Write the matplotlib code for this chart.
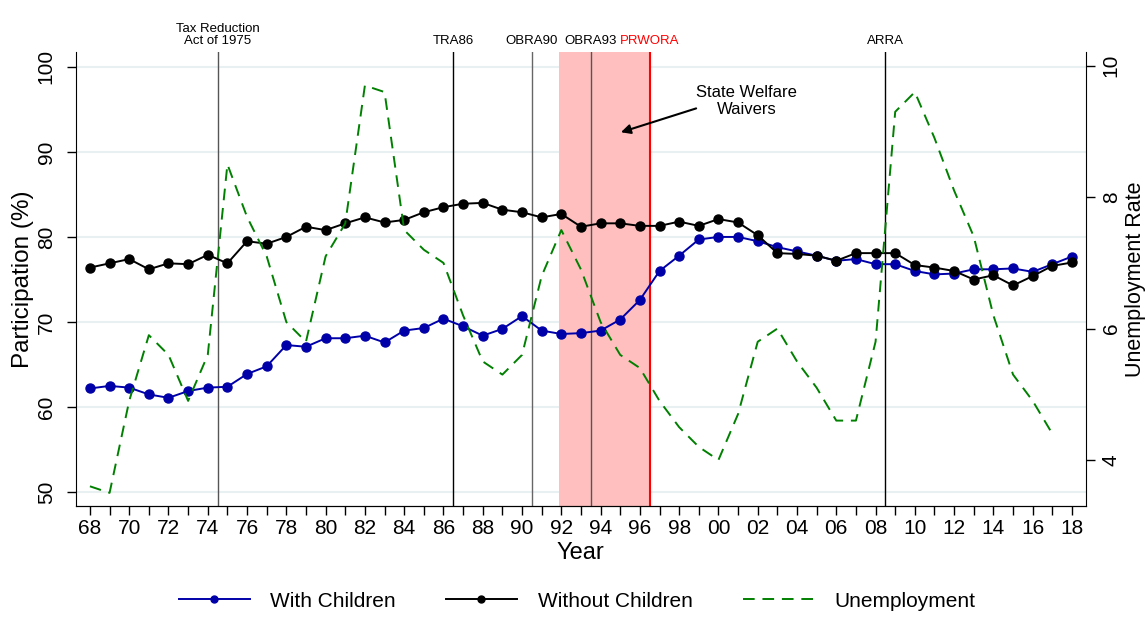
import matplotlib
matplotlib.use('Agg')
import matplotlib.pyplot as plt
from matplotlib.lines import Line2D
import matplotlib.transforms as mtransforms
import numpy as np

plt.rcParams['font.family'] = ['Liberation Sans', 'DejaVu Sans']

# ── data ───────────────────────────────────────────────────────────────
years = list(range(1968, 2019))

with_children = [62.2, 62.5, 62.3, 61.5, 61.1, 61.9, 62.3, 62.4, 63.9, 64.8,
                 67.3, 67.1, 68.1, 68.1, 68.4, 67.6, 69.0, 69.3, 70.4, 69.5,
                 68.4, 69.2, 70.7, 69.0, 68.6, 68.7, 69.0, 70.3, 72.6, 76.0,
                 77.8, 79.7, 80.0, 80.0, 79.5, 78.8, 78.3, 77.8, 77.2, 77.4,
                 76.8, 76.8, 76.0, 75.6, 75.7, 76.2, 76.2, 76.3, 75.9, 76.8,
                 77.7]

without_children = [76.4, 76.9, 77.4, 76.2, 76.9, 76.8, 77.9, 76.9, 79.5, 79.2,
                    80.0, 81.2, 80.8, 81.6, 82.3, 81.7, 82.0, 82.9, 83.5, 83.9,
                    84.0, 83.2, 82.9, 82.3, 82.7, 81.2, 81.6, 81.6, 81.3, 81.3,
                    81.8, 81.3, 82.1, 81.7, 80.2, 78.1, 78.0, 77.8, 77.2, 78.1,
                    78.1, 78.1, 76.7, 76.4, 76.0, 75.0, 75.5, 74.3, 75.4, 76.6,
                    77.0]

unemp_years = list(range(1968, 2018))
unemployment = [3.6, 3.5, 4.9, 5.9, 5.6, 4.9, 5.6, 8.5, 7.7, 7.1,
                6.1, 5.8, 7.1, 7.6, 9.7, 9.6, 7.5, 7.2, 7.0, 6.2,
                5.5, 5.3, 5.6, 6.8, 7.5, 6.9, 6.1, 5.6, 5.4, 4.9,
                4.5, 4.2, 4.0, 4.7, 5.8, 6.0, 5.5, 5.1, 4.6, 4.6,
                5.8, 9.3, 9.6, 8.9, 8.1, 7.4, 6.2, 5.3, 4.9, 4.4]

event_years = [1974.5, 1986.5, 1990.5, 1993.5, 2008.5]
event_labels = ['Tax Reduction\nAct of 1975', 'TRA86', 'OBRA90', 'OBRA93', 'ARRA']
event_colors = ['#555555', 'black', '#666666', '#555555', 'black']
prwora_year = 1996.5
waiver_start = 1991.9

BLUE = '#0000A8'
GREEN = '#008000'

fig = plt.figure(figsize=(11.46, 6.18), dpi=100)
ax = fig.add_axes([0.0663, 0.1812, 0.8811, 0.7347])
ax2 = ax.twinx()

# ── background: grid, shaded waiver period, event lines ────────────────
for v in range(50, 101, 10):
    ax.axhline(v, color='#E8F0F2', lw=1.5, zorder=0)
ax.axvspan(waiver_start, prwora_year, color='#FFBFBF', lw=0, zorder=1)
for x, c in zip(event_years, event_colors):
    ax.axvline(x, color=c, lw=1.0, zorder=2)
ax.axvline(prwora_year, color='red', lw=1.5, zorder=2)

# ── participation series ──────────────────────────────────────────────
ax.plot(years, with_children, '-o', color=BLUE, lw=1.4, ms=6.5, zorder=4)
ax.plot(years, without_children, '-o', color='black', lw=1.4, ms=6.5, zorder=4)

# ── unemployment on right axis ────────────────────────────────────────
ax2.plot(unemp_years, unemployment, '--', color=GREEN, lw=1.4,
         dashes=(6, 4))

ax.set_xlim(1967.29, 2018.7)
ax.set_ylim(48.39, 101.73)
ax2.set_ylim(3.30, 10.21)

ax.set_xticks(years)
ax.set_xticklabels([f'{y % 100:02d}' if y % 2 == 0 else '' for y in years])
ax.set_yticks(range(50, 101, 10))
ax2.set_yticks([4, 6, 8, 10])

for a in (ax, ax2):
    a.spines['top'].set_visible(False)
    a.tick_params(length=6.5, width=1.0, labelsize=15, direction='out')
ax.spines['right'].set_visible(False)
ax2.spines['left'].set_visible(False)
ax.tick_params(axis='x', pad=3)
ax.tick_params(axis='y', labelrotation=90, pad=8)
ax2.tick_params(axis='y', labelrotation=90, pad=5)
for lab in ax.get_yticklabels() + ax2.get_yticklabels():
    lab.set_va('center')

ax.set_xlabel('Year', fontsize=17, labelpad=3)
ax.set_ylabel('Participation (%)', fontsize=17.5, labelpad=2)
ax2.set_ylabel('Unemployment Rate', fontsize=15.5, labelpad=3)

# ── event labels above the plot ───────────────────────────────────────
trans = mtransforms.blended_transform_factory(ax.transData, ax.transAxes)
for x, lab in zip(event_years, event_labels):
    ax.text(x, 1.01, lab, transform=trans, ha='center', va='bottom',
            fontsize=9.5, linespacing=1.05)
ax.text(prwora_year, 1.01, 'PRWORA', transform=trans, ha='center',
        va='bottom', fontsize=9.5, color='red')

# ── waiver annotation ─────────────────────────────────────────────────
ax.annotate('', xy=(1994.9, 92.2), xytext=(1999.0, 95.2),
            arrowprops=dict(arrowstyle='-|>', color='black', lw=1.5,
                            mutation_scale=14), zorder=5)
ax.text(2001.45, 96.0, 'State Welfare\nWaivers', ha='center', va='center',
        fontsize=12, linespacing=1.15, zorder=5)

# ── legend ────────────────────────────────────────────────────────────
handles = [
    Line2D([], [], color=BLUE, lw=1.4, marker='o', ms=5),
    Line2D([], [], color='black', lw=1.4, marker='o', ms=5),
    Line2D([], [], color=GREEN, lw=1.4, ls='--', dashes=(6, 4)),
]
fig.legend(handles, ['With Children', 'Without Children', 'Unemployment'],
           loc='center', bbox_to_anchor=(577 / 1146, 0.0275), ncol=3,
           frameon=False, fontsize=15, handlelength=3.4, handletextpad=1.0,
           columnspacing=2.4)

fig.savefig('out.png', dpi=100, facecolor='white')
